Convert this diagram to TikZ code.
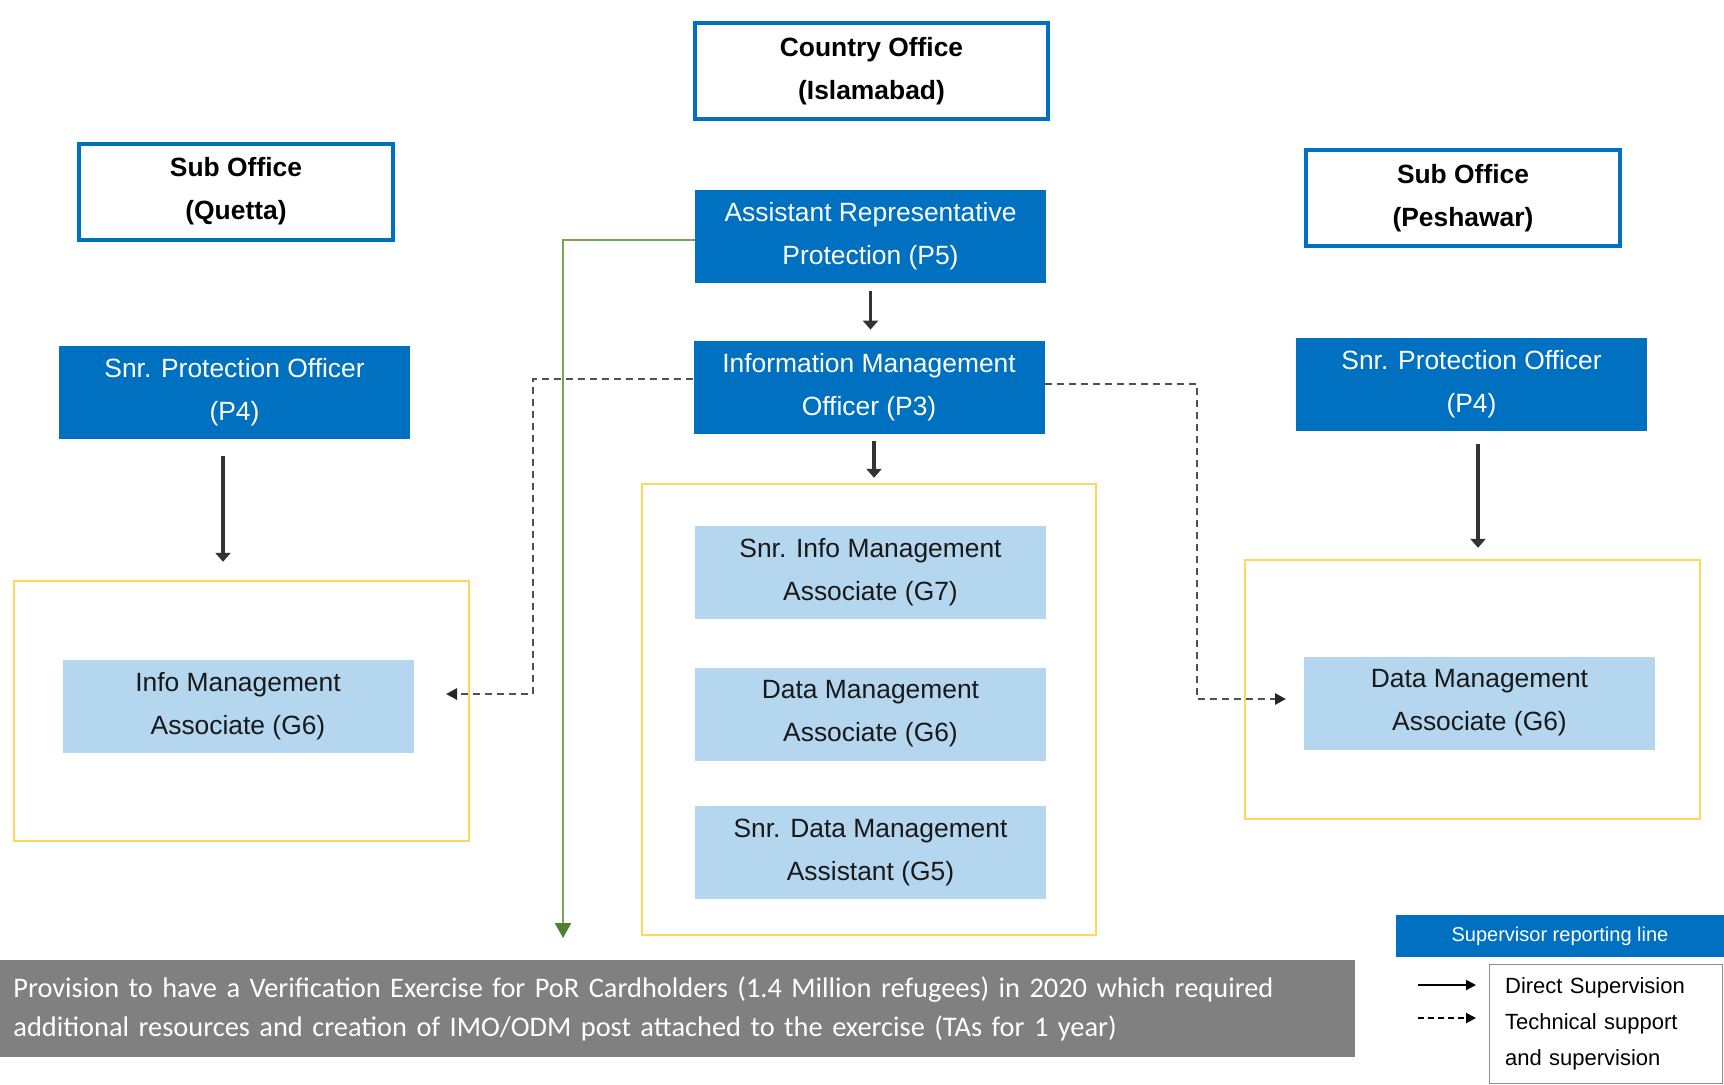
\documentclass[tikz,border=0pt]{standalone}
\usepackage{fontspec}
\setmainfont{Liberation Sans}
\newfontfamily\bannerfont{Carlito}
\usepackage{tikz}
\usetikzlibrary{arrows.meta}
\usetikzlibrary{positioning}
\definecolor{unhcrblue}{HTML}{0070C0}
\definecolor{staffblue}{HTML}{B4D6EE}
\definecolor{unitgold}{HTML}{FFD75A}
\definecolor{linkgray}{HTML}{505050}
\definecolor{greenline}{HTML}{76A553}
\definecolor{greenhead}{HTML}{4F8030}
\definecolor{bannergray}{HTML}{808080}
\tikzstyle{box_text}=[font=\fontsize{13.2}{21.5}\selectfont, align=center, inner sep=0pt]
\tikzstyle{office_box}=[box_text, draw=unhcrblue, line width=2pt, fill=white, minimum width=157pt, minimum height=48pt, font=\fontsize{13.2}{21.5}\selectfont\bfseries]
\tikzstyle{post_box}=[box_text, fill=unhcrblue, text=white, minimum width=175.5pt, minimum height=46.5pt]
\tikzstyle{staff_box}=[box_text, fill=staffblue, text=black!90, minimum width=175.5pt, minimum height=46.5pt]
\tikzstyle{unit_box}=[draw=unitgold, line width=1.2pt, inner sep=0pt]
\tikzstyle{direct_line}=[draw=black!80, line width=1.6pt, -{Triangle[length=4.5pt,width=7.5pt]}]
\tikzstyle{tech_line}=[draw=linkgray, line width=1.4pt, dash pattern=on 3.5pt off 2.5pt, -{Triangle[length=5.5pt,width=5.5pt,color=black!85,fill=black!85]}]

\begin{document}
\begin{tikzpicture}[x=0.5pt, y=-0.5pt]
\useasboundingbox (0,0) rectangle (1724,1084);
\node[unit_box, minimum width=227.5pt, minimum height=130pt] (unit_q) at (241.5,711){};
\node[unit_box, minimum width=227pt, minimum height=225.5pt] (unit_c) at (869,709.5){};
\node[unit_box, minimum width=227.5pt, minimum height=129.5pt] (unit_p) at (1472.5,689.5){};
\node[office_box, minimum width=176.5pt] (co) at (871.5,71){Country Office\\(Islamabad)};
\node[office_box] (so_q) at (236,191.5){Sub Office\\(Quetta)};
\node[office_box] (so_p) at (1463,198){Sub Office\\(Peshawar)};
\node[post_box] (ar) at (870.5,236){Assistant Representative\\Protection (P5)};
\node[post_box] (imo) at (869,387.5){Information Management\\Officer (P3)};
\node[post_box] (spo_q) at (234.5,392.5){Snr. Protection Officer\\(P4)};
\node[post_box] (spo_p) at (1471.5,384){Snr. Protection Officer\\(P4)};
\node[staff_box] (ima_q) at (238,706){Info Management\\Associate (G6)};
\node[staff_box] (sima) at (870.5,572.5){Snr. Info Management\\Associate (G7)};
\node[staff_box] (dma) at (870.5,714){Data Management\\Associate (G6)};
\node[staff_box] (sdma) at (870.5,852.5){Snr. Data Management\\Assistant (G5)};
\node[staff_box] (dma_p) at (1479.5,703){Data Management\\Associate (G6)};
\draw[direct_line, shorten <=4pt, shorten >=5.5pt] (ar.south) -- (ar.south |- imo.north);
\draw[direct_line, shorten <=3.5pt, shorten >=2.5pt] ([xshift=2.5pt]imo.south) -- ([xshift=2.5pt]imo.south |- unit_c.north);
\draw[direct_line, shorten <=8.5pt, shorten >=9pt] ([xshift=-5.75pt]spo_q.south) -- ([xshift=-5.75pt]spo_q.south |- unit_q.north);
\draw[direct_line, shorten <=6.5pt, shorten >=5.5pt] ([xshift=3.25pt]spo_p.south) -- ([xshift=3.25pt]spo_p.south |- unit_p.north);
\coordinate (bend_q) at (533,694);
\coordinate (end_q) at (446,694);
\coordinate (bend_p) at (1197,699);
\coordinate (end_p) at (1286,699);
\coordinate (end_g) at (563,938);
\draw[tech_line] ([yshift=4.25pt]imo.west) -| (bend_q) -- (end_q);
\draw[tech_line] ([yshift=1.75pt]imo.east) -| (bend_p) -- (end_p);
\draw[draw=greenline, line width=1.1pt, -{Triangle[length=7.5pt,width=8pt,color=greenhead,fill=greenhead]}] ([yshift=-2pt]ar.west) -| (end_g);
\node[fill=bannergray, text=white, anchor=north west, minimum width=677.5pt, minimum height=48.5pt, inner xsep=6.5pt, inner ysep=0pt, text width=664.5pt, align=left, font=\bannerfont\fontsize{14.2}{19.25}\selectfont] (note) at (0,960){Provision to have a Verification Exercise for PoR Cardholders (1.4 Million refugees) in 2020 which required\\additional resources and creation of IMO/ODM post attached to the exercise (TAs for 1 year)};
\node[fill=unhcrblue, text=white, minimum width=164pt, minimum height=21pt, inner sep=0pt, font=\fontsize{10}{12}\selectfont] (key_bar) at (1560,936){Supervisor reporting line};
\node[draw=black!45, line width=0.6pt, anchor=north west, minimum width=116.5pt, minimum height=59.5pt, inner xsep=7.5pt, inner ysep=0pt, text width=101pt, align=left, font=\fontsize{11}{18}\selectfont] (key_box) at (1489,964){Direct Supervision\\Technical support\\and supervision};
\coordinate (key_a) at (1418,985);
\coordinate (key_b) at (1476,985);
\coordinate (key_c) at (1418,1018);
\coordinate (key_d) at (1476,1018);
\draw[draw=black, line width=1pt, -{Triangle[length=5pt,width=5pt]}] (key_a) -- (key_b);
\draw[draw=black, line width=1pt, dash pattern=on 3pt off 2pt, -{Triangle[length=5pt,width=5pt]}] (key_c) -- (key_d);
\end{tikzpicture}
\end{document}
